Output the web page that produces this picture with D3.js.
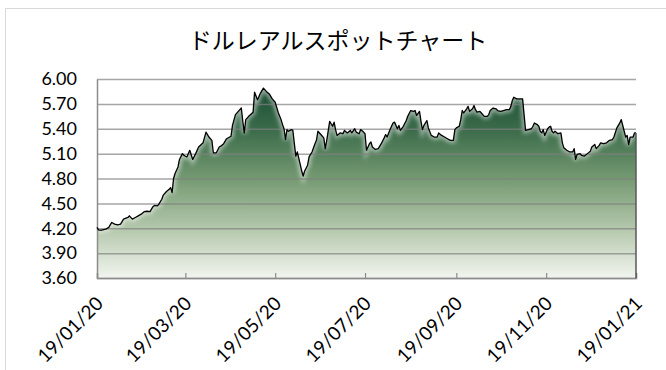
<!DOCTYPE html>
<html>

<head>
    <meta charset="utf-8">
    <title>ドルレアルスポットチャート</title>
    <script src="https://d3js.org/d3.v7.min.js"></script>

    <style>
        body {
            margin: 0;
            background: #fff;
        }

        .axis text {
            font-family: Lato, "Open Sans", sans-serif;
            font-size: 18px;
            fill: #000;
        }

        .x.axis text {
            font-size: 19px;
        }

        .gridlines .domain {
            display: none;
        }

        .gridlines line {
            stroke: #808080;
            stroke-opacity: 0.7;
            stroke-width: 1.5;
        }
    </style>
</head>

<body>
    <svg id="chart" height="370" width="666"></svg>

    <script>
        // USD/BRL spot, 19/01/20 - 19/01/21
        const startDate = new Date(2020, 0, 19);
        const endDate = new Date(2021, 0, 19);

        // days since startDate
        const dayOffsets = [
            0, 1, 3, 6, 8, 10, 12, 14, 16, 18, 21, 22, 24, 26, 28, 30, 32, 34, 36, 38, 39, 41, 42, 44, 45, 47, 49, 50, 51, 52, 53, 55, 56, 58,
            59, 61, 63, 65, 67, 69, 72, 74, 76, 78, 79, 81, 83, 84, 86, 88, 91, 92, 94, 97, 98, 99, 100, 101, 103, 106, 107, 109, 111, 113, 115, 117, 119, 121,
            123, 125, 126, 127, 128, 129, 130, 132, 133, 134, 135, 136, 138, 139, 140, 141, 143, 144, 146, 148, 149, 150, 152, 154, 155, 156, 158, 159, 160, 161, 162, 163, 165, 167, 168, 170, 172, 173, 175, 176, 178, 179, 181,
            182, 183, 185, 186, 187, 189, 191, 193, 195, 196, 197, 199, 201, 202, 204, 205, 206, 208, 210, 211, 213, 215, 216, 217, 219, 220, 221, 222, 224, 225, 227, 229, 231, 232, 234, 236, 238, 240, 242, 243, 244,
            246, 247, 248, 249, 251, 252, 253, 255, 256, 257, 258, 260, 261, 263, 265, 266, 267, 269, 271, 272, 274, 276, 278, 280, 281, 282, 283, 285, 287, 289, 290, 291, 293, 295, 296, 297, 299, 300, 301, 302, 303, 304,
            306, 307, 308, 309, 310, 311, 313, 315, 316, 317, 319, 321, 323, 324, 325, 326, 328, 329, 331, 333, 335, 336, 338, 339, 341, 342, 344, 346, 348, 350, 351, 353, 355, 356, 358, 359, 360, 361, 362, 364, 365, 366
        ];

        const rates = [
            4.21, 4.18, 4.176, 4.19, 4.21, 4.27, 4.25, 4.24, 4.25, 4.31, 4.33, 4.35, 4.31, 4.33, 4.35, 4.37, 4.40, 4.405, 4.40, 4.46, 4.475, 4.47, 4.49, 4.55, 4.60, 4.64, 4.67, 4.69, 4.63, 4.80, 4.86, 4.94, 5.03, 5.10,
            5.08, 5.06, 5.14, 5.03, 5.10, 5.18, 5.23, 5.36, 5.30, 5.26, 5.11, 5.11, 5.18, 5.19, 5.22, 5.28, 5.31, 5.44, 5.57, 5.63, 5.65, 5.49, 5.35, 5.51, 5.55, 5.60, 5.84, 5.75, 5.83, 5.89, 5.85, 5.82, 5.76, 5.72,
            5.60, 5.51, 5.45, 5.40, 5.27, 5.39, 5.37, 5.39, 5.38, 5.22, 5.07, 5.12, 4.97, 4.89, 4.83, 4.89, 4.96, 5.06, 5.12, 5.22, 5.26, 5.37, 5.33, 5.29, 5.16, 5.26, 5.49, 5.46, 5.43, 5.48, 5.39, 5.32, 5.35, 5.34, 5.38, 5.35, 5.38, 5.35, 5.40, 5.36, 5.34, 5.39, 5.36,
            5.34, 5.14, 5.22, 5.24, 5.18, 5.15, 5.16, 5.22, 5.29, 5.33, 5.30, 5.39, 5.47, 5.48, 5.40, 5.44, 5.38, 5.43, 5.50, 5.55, 5.62, 5.61, 5.62, 5.56, 5.61, 5.49, 5.39, 5.44, 5.50, 5.41, 5.32, 5.30, 5.30, 5.35, 5.32, 5.30, 5.28, 5.26, 5.26, 5.39, 5.41,
            5.43, 5.51, 5.62, 5.59, 5.64, 5.67, 5.61, 5.64, 5.68, 5.63, 5.60, 5.61, 5.59, 5.55, 5.55, 5.57, 5.62, 5.65, 5.64, 5.62, 5.61, 5.62, 5.63, 5.63, 5.67, 5.74, 5.78, 5.76, 5.76, 5.76, 5.57, 5.38, 5.39, 5.40, 5.43, 5.47, 5.45, 5.43, 5.37, 5.35, 5.39, 5.32,
            5.40, 5.42, 5.43, 5.37, 5.35, 5.37, 5.34, 5.35, 5.23, 5.17, 5.14, 5.12, 5.12, 5.16, 5.03, 5.09, 5.10, 5.08, 5.07, 5.10, 5.13, 5.18, 5.21, 5.16, 5.20, 5.23, 5.22, 5.23, 5.26, 5.27, 5.30, 5.41, 5.47, 5.51, 5.37, 5.30, 5.32, 5.21, 5.30, 5.30, 5.35, 5.35
        ];

        const yTicks = [3.60, 3.90, 4.20, 4.50, 4.80, 5.10, 5.40, 5.70, 6.00];
        const xTicks = ["2020-01-19", "2020-03-19", "2020-05-19", "2020-07-19", "2020-09-19", "2020-11-19", "2021-01-19"];
        const title = "ドルレアルスポットチャート";

        const svg = d3.select("#chart");
        const width = svg.attr("width");
        const height = svg.attr("height");
        const margin = { top: 79, right: 30, bottom: 92, left: 97 };
        const chartWidth = width - margin.left - margin.right;
        const chartHeight = height - margin.top - margin.bottom;

        const data = dayOffsets.map((d, i) => ({ date: d3.timeDay.offset(startDate, d), rate: rates[i] }));

        const xScale = d3.scaleTime().domain([startDate, endDate]).range([0, chartWidth]);
        const yScale = d3.scaleLinear().domain([3.6, 6.0]).range([chartHeight, 0]);

        // outer chart border
        svg.append("rect")
            .attr("x", 5.5).attr("y", 8.5)
            .attr("width", 700).attr("height", 400)
            .attr("fill", "none")
            .attr("stroke", "#d9d9d9");

        svg.append("text")
            .attr("x", 338)
            .attr("y", 49)
            .attr("text-anchor", "middle")
            .style("font-family", "'Noto Sans CJK JP', sans-serif")
            .style("font-size", "23px")
            .style("fill", "#000")
            .text(title);

        const defs = svg.append("defs");
        const grad = defs.append("linearGradient")
            .attr("id", "fillGrad")
            .attr("gradientUnits", "userSpaceOnUse")
            .attr("x1", 0).attr("x2", 0)
            .attr("y1", yScale(5.9)).attr("y2", yScale(3.6));
        grad.append("stop").attr("offset", "0%").attr("stop-color", "#184b31");
        grad.append("stop").attr("offset", "22%").attr("stop-color", "#3b6b4a");
        grad.append("stop").attr("offset", "48%").attr("stop-color", "#759a72");
        grad.append("stop").attr("offset", "75%").attr("stop-color", "#b6c9ae");
        grad.append("stop").attr("offset", "100%").attr("stop-color", "#f2f5ef");

        defs.append("filter").attr("id", "glow")
            .attr("x", "-5%").attr("y", "-20%").attr("width", "110%").attr("height", "140%")
            .append("feGaussianBlur").attr("stdDeviation", 2.2);

        defs.append("clipPath").attr("id", "plotClip")
            .append("rect").attr("width", chartWidth).attr("height", chartHeight);

        const chartArea = svg.append("g")
            .attr("transform", `translate(${margin.left},${margin.top})`);

        const areaGen = d3.area()
            .x(d => xScale(d.date))
            .y0(chartHeight)
            .y1(d => yScale(d.rate));

        const lineGen = d3.line()
            .x(d => xScale(d.date))
            .y(d => yScale(d.rate));

        chartArea.append("path")
            .datum(data)
            .attr("d", areaGen)
            .attr("fill", "url(#fillGrad)");

        // soft light edge just under the line
        chartArea.append("g")
            .attr("clip-path", "url(#plotClip)")
            .append("path")
            .datum(data)
            .attr("d", lineGen)
            .attr("fill", "none")
            .attr("stroke", "#ffffff")
            .attr("stroke-opacity", 0.55)
            .attr("stroke-width", 5)
            .attr("filter", "url(#glow)");

        let leftGridlines = d3.axisLeft(yScale)
            .tickValues(yTicks)
            .tickSize(-chartWidth)
            .tickFormat("");
        chartArea.append("g")
            .attr("class", "gridlines")
            .call(leftGridlines);

        let leftAxis = d3.axisLeft(yScale)
            .tickValues(yTicks)
            .tickSize(0)
            .tickPadding(20)
            .tickFormat(d3.format(".2f"));
        chartArea.append("g")
            .attr("class", "y axis")
            .call(leftAxis)
            .call(g => g.select(".domain").attr("stroke", "#8c8c8c").attr("stroke-width", 1.5));

        let bottomAxis = d3.axisBottom(xScale)
            .tickValues(xTicks.map(d => d3.timeParse("%Y-%m-%d")(d)))
            .tickSize(-5)
            .tickFormat(d3.timeFormat("%d/%m/%y"));
        chartArea.append("g")
            .attr("class", "x axis")
            .attr("transform", `translate(0,${chartHeight})`)
            .call(bottomAxis)
            .call(g => g.select(".domain").attr("stroke", "#8c8c8c").attr("stroke-width", 1.5))
            .call(g => g.selectAll(".tick line").attr("stroke", "#8c8c8c").attr("stroke-width", 1.2))
            .call(g => g.selectAll(".tick text")
                .attr("text-anchor", "end")
                .attr("transform", "translate(0,20) rotate(-45)")
                .attr("dx", 0)
                .attr("dy", "0.35em"));

        chartArea.append("path")
            .datum(data)
            .attr("d", lineGen)
            .attr("fill", "none")
            .attr("stroke", "#000")
            .attr("stroke-width", 1.3)
            .attr("stroke-linejoin", "round");

        // right edge of the area
        const last = data[data.length - 1];
        chartArea.append("line")
            .attr("x1", xScale(last.date)).attr("x2", xScale(last.date))
            .attr("y1", yScale(last.rate)).attr("y2", chartHeight)
            .attr("stroke", "#595959")
            .attr("stroke-width", 1.5);
    </script>

</body>

</html>
